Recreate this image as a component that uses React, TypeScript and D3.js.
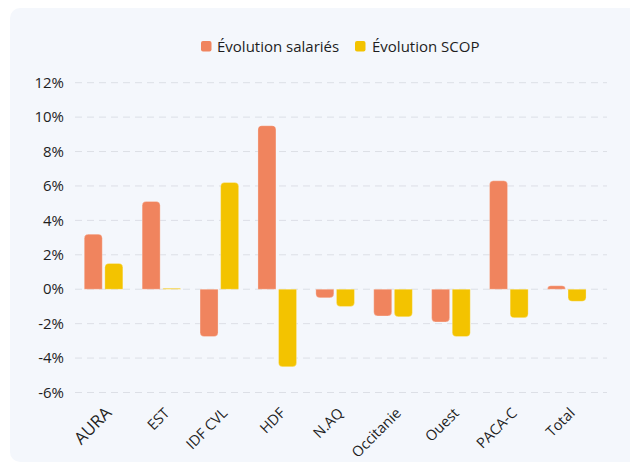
import React from "react";
import * as d3 from "d3";

const categories = ["AURA", "EST", "IDF CVL", "HDF", "N.AQ", "Occitanie", "Ouest", "PACA-C", "Total"];
const salaries = [3.2, 5.1, -2.75, 9.5, -0.5, -1.55, -1.9, 6.3, 0.2];
const scop = [1.5, 0.05, 6.2, -4.5, -1.0, -1.6, -2.75, -1.65, -0.7];
const yTicks = [-6, -4, -2, 0, 2, 4, 6, 8, 10, 12];
const seriesNames = ["Évolution salariés", "Évolution SCOP"];
const seriesColors = ["#F0845E", "#F3C300"];

const W = 630;
const H = 463;
const FONT = "'Open Sans', sans-serif";

function barPath(x: number, w: number, y0: number, y1: number, r: number) {
  // y0 = zero baseline, y1 = value end (rounded)
  const h = Math.abs(y1 - y0);
  const rr = Math.min(r, h, w / 2);
  if (h < 0.0001) return "";
  if (y1 < y0) {
    return `M${x},${y0}V${y1 + rr}Q${x},${y1} ${x + rr},${y1}H${x + w - rr}Q${x + w},${y1} ${x + w},${y1 + rr}V${y0}Z`;
  }
  return `M${x},${y0}V${y1 - rr}Q${x},${y1} ${x + rr},${y1}H${x + w - rr}Q${x + w},${y1} ${x + w},${y1 - rr}V${y0}Z`;
}

export default function App() {
  const y = d3.scaleLinear().domain([-6, 12]).range([392.5, 82.7]);
  const x = d3.scaleBand<string>().domain(categories).range([74.6, 595.7]).padding(0);
  const gridX0 = 75;
  const gridX1 = 607;
  const barW = 18;
  const gap = 2.6;
  const y0 = y(0);

  const legendY = 46;

  return (
    <div style={{ position: "absolute", left: 0, top: 0, width: W, height: H, background: "#fff" }}>
      <svg width={W} height={H} style={{ display: "block", fontFamily: FONT }}>
        <rect x={10} y={8} width={W + 20} height={454} rx={10} fill="#F4F7FC" />
        {/* legend */}
        <g>
          <rect x={201} y={legendY - 5} width={10.5} height={10.5} rx={2} fill={seriesColors[0]} />
          <text x={217} y={legendY + 5.5} fontSize={15} fill="#1e1e1e">{seriesNames[0]}</text>
          <rect x={355} y={legendY - 5} width={10.5} height={10.5} rx={2} fill={seriesColors[1]} />
          <text x={372} y={legendY + 5.5} fontSize={15} fill="#1e1e1e">{seriesNames[1]}</text>
        </g>
        {/* grid */}
        {yTicks.map((t) => (
          <g key={t}>
            <line x1={gridX0} x2={gridX1} y1={y(t)} y2={y(t)} stroke="#DCDFE6" strokeWidth={1} strokeDasharray="7 5" />
            <text x={64} y={y(t)} dy="0.35em" textAnchor="end" fontSize={15} fill="#1e1e1e">
              {`${t}%`}
            </text>
          </g>
        ))}
        {/* bars */}
        {categories.map((c, i) => {
          const cx = (x(c) as number) + x.bandwidth() / 2;
          const xs = cx - gap / 2 - barW;
          const xc = cx + gap / 2;
          return (
            <g key={c}>
              <path d={barPath(xs, barW, y0, y(salaries[i]), 4)} fill={seriesColors[0]} stroke="#fff" strokeOpacity={0.35} strokeWidth={0.8} />
              <path d={barPath(xc, barW, y0, y(scop[i]), 4)} fill={seriesColors[1]} stroke="#fff" strokeOpacity={0.35} strokeWidth={0.8} />
            </g>
          );
        })}
        {/* x labels */}
        {categories.map((c, i) => {
          const cx = (x(c) as number) + x.bandwidth() / 2 + 9;
          const ly = 414;
          return (
            <text
              key={c}
              x={cx}
              y={ly}
              textAnchor="end"
              fontSize={i === 0 ? 17 : 14.5}
              fill="#1e1e1e"
              transform={`rotate(-45 ${cx} ${ly})`}
            >
              {c}
            </text>
          );
        })}
      </svg>
    </div>
  );
}
